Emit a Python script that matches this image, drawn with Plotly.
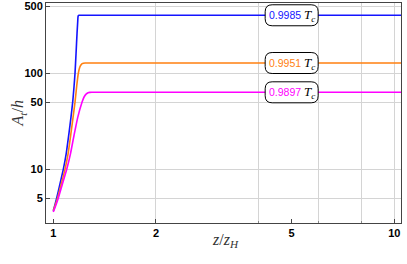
import math
import plotly.graph_objects as go

# ---- data ----
labels = ["0.9985", "0.9951", "0.9897"]
colors = ["#1414ff", "#ff8010", "#ff00ff"]

z_blue = [1.0, 1.012, 1.023, 1.045, 1.070, 1.09, 1.112, 1.127, 1.140, 1.150, 1.158, 1.166,
          1.174, 1.179, 1.182, 1.186, 1.19, 10.5]
a_blue = [3.7, 4.3, 5.0, 6.9, 10.0, 14.2, 23.9, 35.0, 50.0, 72.0, 100.0, 160.0,
          262.0, 340.0, 390.0, 401.0, 402.0, 402.0]

z_orange = [1.0, 1.015, 1.029, 1.055, 1.082, 1.105, 1.127, 1.143, 1.158, 1.172, 1.184, 1.195,
            1.205, 1.215, 1.225, 1.24, 10.5]
a_orange = [3.7, 4.3, 5.0, 7.0, 10.0, 14.5, 23.9, 35.0, 50.0, 75.0, 100.0, 115.0,
            122.0, 126.0, 127.5, 128.0, 128.0]

z_mag = [1.0, 1.017, 1.034, 1.063, 1.095, 1.122, 1.150, 1.18, 1.214, 1.232, 1.25, 1.265,
         1.28, 1.30, 10.5]
a_mag = [3.6, 4.2, 5.0, 7.0, 10.0, 14.3, 22.5, 35.0, 50.0, 57.0, 61.0, 62.8,
         63.3, 63.4, 63.4]

label_z = 5.0
plateaus = [402.0, 128.0, 63.4]

x_ticks = [1, 2, 5, 10]
x_grid = [2, 4, 6, 8, 10]
y_ticks = [5, 10, 50, 100, 500]

series = [(z_blue, a_blue), (z_orange, a_orange), (z_mag, a_mag)]

fig = go.Figure()
for (zs, As), c in zip(series, colors):
    fig.add_trace(go.Scatter(x=zs, y=As, mode="lines",
                             line=dict(color=c, width=1.6, shape="spline", smoothing=0.5),
                             showlegend=False, hoverinfo="skip"))

# rounded label boxes + text
w, h, r = 53.0, 21.0, 7.0
hw, hh = w / 2, h / 2
path = (f"M {-hw + r},{-hh} L {hw - r},{-hh} Q {hw},{-hh} {hw},{-hh + r} "
        f"L {hw},{hh - r} Q {hw},{hh} {hw - r},{hh} L {-hw + r},{hh} "
        f"Q {-hw},{hh} {-hw},{hh - r} L {-hw},{-hh + r} Q {-hw},{-hh} {-hw + r},{-hh} Z")
for lab, c, p in zip(labels, colors, plateaus):
    fig.add_shape(type="path", path=path, xref="x", yref="y",
                  xsizemode="pixel", ysizemode="pixel",
                  xanchor=label_z, yanchor=p,
                  line=dict(color="black", width=1), fillcolor="white",
                  layer="above")
    fig.add_annotation(x=math.log10(label_z), y=math.log10(p), xref="x", yref="y",
                       showarrow=False,
                       text=(f'<span style="color:{c};font-family:Liberation Sans">{lab}</span> '
                             f'<span style="font-family:Liberation Serif;font-size:13px"><i>T<sub>c</sub></i></span>'),
                       font=dict(size=10.5, color="black", family="Liberation Sans"))

axis_common = dict(
    type="log", showline=True, mirror=True, linecolor="#444", linewidth=1,
    ticks="inside", ticklen=4, tickcolor="#444", automargin=False,
    tickfont=dict(family="Liberation Sans", size=11, color="black", weight="bold"),
    zeroline=False,
)

fig.update_xaxes(
    **axis_common,
    range=[math.log10(0.952), math.log10(10.46)],
    tickvals=x_ticks, ticktext=[str(v) for v in x_ticks],
    showgrid=False,
    minor=dict(tickvals=x_grid, showgrid=True, gridcolor="#d4d4d4", gridwidth=1,
               ticks="inside", ticklen=2, tickcolor="#888"),
)
fig.update_yaxes(
    **axis_common,
    range=[0.441, 2.732],
    tickvals=y_ticks, ticktext=[str(v) for v in y_ticks],
    showgrid=True, gridcolor="#d4d4d4", gridwidth=1,
)

# axis titles
fig.add_annotation(x=0.507, y=-0.13, xref="paper", yref="paper", showarrow=False,
                   text="<i>z</i>/<i>z<sub>H</sub></i>",
                   font=dict(family="Liberation Serif", size=16, color="#333"))
fig.add_annotation(x=-0.11, y=0.5, xref="paper", yref="paper", showarrow=False,
                   textangle=-90, text="<i>A<sub>t</sub></i>/<i>h</i>",
                   font=dict(family="Liberation Serif", size=16, color="#333"))

fig.update_layout(
    width=407, height=264,
    margin=dict(l=46, r=6, t=3, b=41),
    paper_bgcolor="white", plot_bgcolor="white",
)

fig.write_html("out.html", config={"displayModeBar": False},
               post_script="document.body.style.margin='0';")
